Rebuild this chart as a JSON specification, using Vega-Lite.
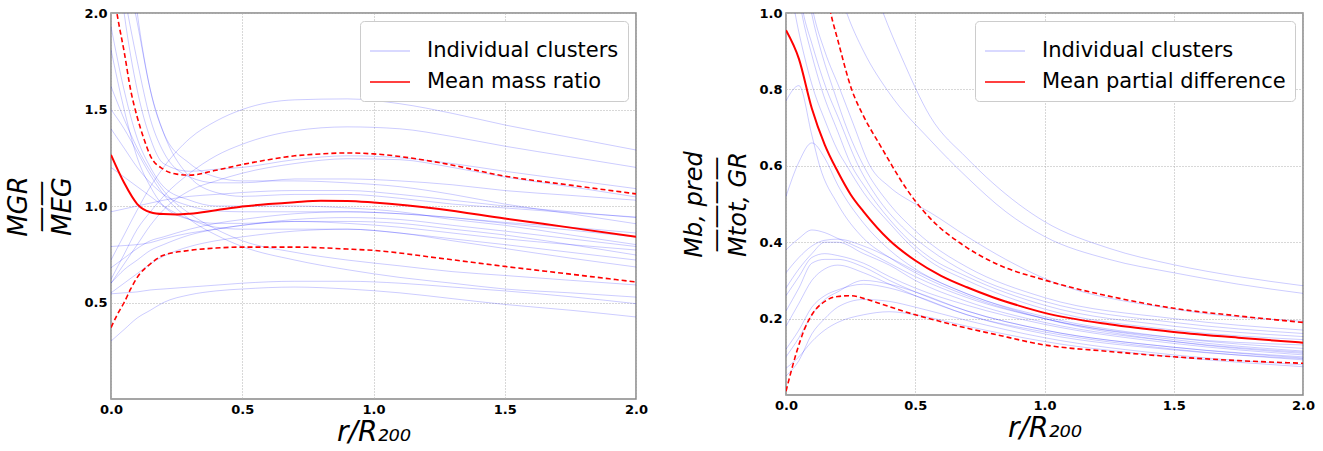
{
  "$schema": "https://vega.github.io/schema/vega-lite/v6.json",
  "background": "white",
  "padding": {"left": 5, "top": 6, "right": 5, "bottom": 1},
  "spacing": 33,
  "config": {
    "font": "DejaVu Sans",
    "view": {"stroke": "#888888", "strokeWidth": 1.5},
    "axis": {
      "labelFont": "DejaVu Sans", "labelFontWeight": "bold", "labelFontSize": 13, "labelColor": "black",
      "labelFlush": false, "labelOverlap": false, "labelPadding": 4,
      "ticks": false, "domain": false, "grid": true,
      "gridColor": "#b0b0b0", "gridDash": [1, 2], "gridWidth": 1,
      "titleFont": "DejaVu Sans", "titleFontWeight": "normal", "titleColor": "black", "titleFontStyle": "italic"
    },
    "legend": {
      "orient": "top-right", "offset": 8, "padding": 9, "fillColor": "white", "strokeColor": "#cccccc",
      "cornerRadius": 4, "symbolType": "stroke", "symbolSize": 1600, "symbolStrokeWidth": 1.5,
      "labelFont": "DejaVu Sans", "labelFontSize": 21, "labelColor": "black", "labelOffset": 16, "labelLimit": 500,
      "rowPadding": 0, "titlePadding": 0
    }
  },
  "datasets": {
    "left_ind": [
      {"c":"L1","r":0,"v":0.72},{"c":"L1","r":0.05,"v":0.85},{"c":"L1","r":0.1,"v":0.98},{"c":"L1","r":0.15,"v":1.10},{"c":"L1","r":0.2,"v":1.20},{"c":"L1","r":0.3,"v":1.35},{"c":"L1","r":0.4,"v":1.44},{"c":"L1","r":0.5,"v":1.50},{"c":"L1","r":0.7,"v":1.55},{"c":"L1","r":0.9,"v":1.555},{"c":"L1","r":1.1,"v":1.53},{"c":"L1","r":1.3,"v":1.48},{"c":"L1","r":1.5,"v":1.42},{"c":"L1","r":1.75,"v":1.355},{"c":"L1","r":2.0,"v":1.29},
      {"c":"L2","r":0,"v":0.62},{"c":"L2","r":0.05,"v":0.75},{"c":"L2","r":0.1,"v":0.88},{"c":"L2","r":0.15,"v":0.97},{"c":"L2","r":0.2,"v":1.05},{"c":"L2","r":0.3,"v":1.17},{"c":"L2","r":0.4,"v":1.26},{"c":"L2","r":0.5,"v":1.32},{"c":"L2","r":0.7,"v":1.39},{"c":"L2","r":0.9,"v":1.41},{"c":"L2","r":1.1,"v":1.40},{"c":"L2","r":1.3,"v":1.36},{"c":"L2","r":1.5,"v":1.31},{"c":"L2","r":1.75,"v":1.255},{"c":"L2","r":2.0,"v":1.20},
      {"c":"L3","r":0,"v":2.6},{"c":"L3","r":0.05,"v":2.0},{"c":"L3","r":0.1,"v":1.6},{"c":"L3","r":0.15,"v":1.35},{"c":"L3","r":0.2,"v":1.22},{"c":"L3","r":0.3,"v":1.18},{"c":"L3","r":0.4,"v":1.19},{"c":"L3","r":0.5,"v":1.20},{"c":"L3","r":0.7,"v":1.24},{"c":"L3","r":0.9,"v":1.26},{"c":"L3","r":1.1,"v":1.25},{"c":"L3","r":1.3,"v":1.22},{"c":"L3","r":1.5,"v":1.18},{"c":"L3","r":1.75,"v":1.135},{"c":"L3","r":2.0,"v":1.09},
      {"c":"L4","r":0,"v":0.6},{"c":"L4","r":0.05,"v":0.7},{"c":"L4","r":0.1,"v":0.8},{"c":"L4","r":0.15,"v":0.9},{"c":"L4","r":0.2,"v":0.98},{"c":"L4","r":0.3,"v":1.08},{"c":"L4","r":0.4,"v":1.13},{"c":"L4","r":0.5,"v":1.17},{"c":"L4","r":0.7,"v":1.22},{"c":"L4","r":0.9,"v":1.245},{"c":"L4","r":1.1,"v":1.24},{"c":"L4","r":1.3,"v":1.20},{"c":"L4","r":1.5,"v":1.15},{"c":"L4","r":1.75,"v":1.10},{"c":"L4","r":2.0,"v":1.047},
      {"c":"L5","r":0,"v":2.5},{"c":"L5","r":0.05,"v":2.1},{"c":"L5","r":0.1,"v":1.75},{"c":"L5","r":0.15,"v":1.45},{"c":"L5","r":0.2,"v":1.28},{"c":"L5","r":0.3,"v":1.15},{"c":"L5","r":0.4,"v":1.12},{"c":"L5","r":0.5,"v":1.12},{"c":"L5","r":0.7,"v":1.14},{"c":"L5","r":0.9,"v":1.14},{"c":"L5","r":1.1,"v":1.13},{"c":"L5","r":1.3,"v":1.11},{"c":"L5","r":1.5,"v":1.08},{"c":"L5","r":1.75,"v":1.055},{"c":"L5","r":2.0,"v":1.03},
      {"c":"L6","r":0,"v":2.7},{"c":"L6","r":0.05,"v":2.3},{"c":"L6","r":0.1,"v":1.95},{"c":"L6","r":0.15,"v":1.6},{"c":"L6","r":0.2,"v":1.38},{"c":"L6","r":0.3,"v":1.15},{"c":"L6","r":0.4,"v":1.07},{"c":"L6","r":0.5,"v":1.05},{"c":"L6","r":0.7,"v":1.06},{"c":"L6","r":0.9,"v":1.06},{"c":"L6","r":1.1,"v":1.04},{"c":"L6","r":1.3,"v":1.01},{"c":"L6","r":1.5,"v":0.99},{"c":"L6","r":1.75,"v":0.965},{"c":"L6","r":2.0,"v":0.943},
      {"c":"L7","r":0,"v":1.93},{"c":"L7","r":0.05,"v":1.6},{"c":"L7","r":0.1,"v":1.35},{"c":"L7","r":0.15,"v":1.2},{"c":"L7","r":0.2,"v":1.1},{"c":"L7","r":0.3,"v":1.03},{"c":"L7","r":0.4,"v":1.0},{"c":"L7","r":0.5,"v":1.0},{"c":"L7","r":0.7,"v":1.0},{"c":"L7","r":0.9,"v":0.99},{"c":"L7","r":1.1,"v":0.97},{"c":"L7","r":1.3,"v":0.93},{"c":"L7","r":1.5,"v":0.9},{"c":"L7","r":1.75,"v":0.85},{"c":"L7","r":2.0,"v":0.80},
      {"c":"L8","r":0,"v":1.81},{"c":"L8","r":0.05,"v":1.5},{"c":"L8","r":0.1,"v":1.25},{"c":"L8","r":0.15,"v":1.1},{"c":"L8","r":0.2,"v":1.0},{"c":"L8","r":0.3,"v":0.93},{"c":"L8","r":0.4,"v":0.91},{"c":"L8","r":0.5,"v":0.91},{"c":"L8","r":0.7,"v":0.92},{"c":"L8","r":0.9,"v":0.91},{"c":"L8","r":1.1,"v":0.89},{"c":"L8","r":1.3,"v":0.86},{"c":"L8","r":1.5,"v":0.83},{"c":"L8","r":1.75,"v":0.80},{"c":"L8","r":2.0,"v":0.772},
      {"c":"L9","r":0,"v":1.62},{"c":"L9","r":0.05,"v":1.45},{"c":"L9","r":0.1,"v":1.3},{"c":"L9","r":0.15,"v":1.18},{"c":"L9","r":0.2,"v":1.08},{"c":"L9","r":0.3,"v":0.96},{"c":"L9","r":0.4,"v":0.88},{"c":"L9","r":0.5,"v":0.82},{"c":"L9","r":0.7,"v":0.76},{"c":"L9","r":0.9,"v":0.72},{"c":"L9","r":1.1,"v":0.69},{"c":"L9","r":1.3,"v":0.66},{"c":"L9","r":1.5,"v":0.64},{"c":"L9","r":1.75,"v":0.615},{"c":"L9","r":2.0,"v":0.591},
      {"c":"L10","r":0,"v":1.5},{"c":"L10","r":0.05,"v":1.4},{"c":"L10","r":0.1,"v":1.28},{"c":"L10","r":0.15,"v":1.16},{"c":"L10","r":0.2,"v":1.06},{"c":"L10","r":0.3,"v":0.93},{"c":"L10","r":0.4,"v":0.85},{"c":"L10","r":0.5,"v":0.79},{"c":"L10","r":0.7,"v":0.72},{"c":"L10","r":0.9,"v":0.67},{"c":"L10","r":1.1,"v":0.63},{"c":"L10","r":1.3,"v":0.6},{"c":"L10","r":1.5,"v":0.57},{"c":"L10","r":1.75,"v":0.55},{"c":"L10","r":2.0,"v":0.528},
      {"c":"L11","r":0,"v":0.97},{"c":"L11","r":0.05,"v":0.985},{"c":"L11","r":0.1,"v":1.0},{"c":"L11","r":0.15,"v":1.015},{"c":"L11","r":0.2,"v":1.03},{"c":"L11","r":0.3,"v":1.05},{"c":"L11","r":0.4,"v":1.06},{"c":"L11","r":0.5,"v":1.07},{"c":"L11","r":0.7,"v":1.08},{"c":"L11","r":0.9,"v":1.08},{"c":"L11","r":1.1,"v":1.06},{"c":"L11","r":1.3,"v":1.03},{"c":"L11","r":1.5,"v":1.0},{"c":"L11","r":1.75,"v":0.97},{"c":"L11","r":2.0,"v":0.94},
      {"c":"L12","r":0,"v":0.79},{"c":"L12","r":0.05,"v":0.795},{"c":"L12","r":0.1,"v":0.8},{"c":"L12","r":0.15,"v":0.81},{"c":"L12","r":0.2,"v":0.83},{"c":"L12","r":0.3,"v":0.86},{"c":"L12","r":0.4,"v":0.88},{"c":"L12","r":0.5,"v":0.9},{"c":"L12","r":0.7,"v":0.92},{"c":"L12","r":0.9,"v":0.92},{"c":"L12","r":1.1,"v":0.91},{"c":"L12","r":1.3,"v":0.88},{"c":"L12","r":1.5,"v":0.85},{"c":"L12","r":1.75,"v":0.80},{"c":"L12","r":2.0,"v":0.746},
      {"c":"L13","r":0,"v":0.6},{"c":"L13","r":0.05,"v":0.67},{"c":"L13","r":0.1,"v":0.72},{"c":"L13","r":0.15,"v":0.77},{"c":"L13","r":0.2,"v":0.8},{"c":"L13","r":0.3,"v":0.85},{"c":"L13","r":0.4,"v":0.88},{"c":"L13","r":0.5,"v":0.9},{"c":"L13","r":0.7,"v":0.93},{"c":"L13","r":0.9,"v":0.94},{"c":"L13","r":1.1,"v":0.93},{"c":"L13","r":1.3,"v":0.9},{"c":"L13","r":1.5,"v":0.87},{"c":"L13","r":1.75,"v":0.83},{"c":"L13","r":2.0,"v":0.79},
      {"c":"L14","r":0,"v":0.68},{"c":"L14","r":0.05,"v":0.73},{"c":"L14","r":0.1,"v":0.78},{"c":"L14","r":0.15,"v":0.82},{"c":"L14","r":0.2,"v":0.84},{"c":"L14","r":0.3,"v":0.88},{"c":"L14","r":0.4,"v":0.91},{"c":"L14","r":0.5,"v":0.93},{"c":"L14","r":0.7,"v":0.96},{"c":"L14","r":0.9,"v":0.97},{"c":"L14","r":1.1,"v":0.96},{"c":"L14","r":1.3,"v":0.94},{"c":"L14","r":1.5,"v":0.91},{"c":"L14","r":1.75,"v":0.875},{"c":"L14","r":2.0,"v":0.84},
      {"c":"L15","r":0,"v":0.55},{"c":"L15","r":0.05,"v":0.6},{"c":"L15","r":0.1,"v":0.65},{"c":"L15","r":0.15,"v":0.7},{"c":"L15","r":0.2,"v":0.74},{"c":"L15","r":0.3,"v":0.79},{"c":"L15","r":0.4,"v":0.82},{"c":"L15","r":0.5,"v":0.84},{"c":"L15","r":0.7,"v":0.87},{"c":"L15","r":0.9,"v":0.88},{"c":"L15","r":1.1,"v":0.86},{"c":"L15","r":1.3,"v":0.82},{"c":"L15","r":1.5,"v":0.78},{"c":"L15","r":1.75,"v":0.73},{"c":"L15","r":2.0,"v":0.684},
      {"c":"L16","r":0,"v":0.545},{"c":"L16","r":0.05,"v":0.55},{"c":"L16","r":0.1,"v":0.555},{"c":"L16","r":0.15,"v":0.565},{"c":"L16","r":0.2,"v":0.57},{"c":"L16","r":0.3,"v":0.58},{"c":"L16","r":0.4,"v":0.59},{"c":"L16","r":0.5,"v":0.6},{"c":"L16","r":0.7,"v":0.61},{"c":"L16","r":0.9,"v":0.61},{"c":"L16","r":1.1,"v":0.6},{"c":"L16","r":1.3,"v":0.58},{"c":"L16","r":1.5,"v":0.56},{"c":"L16","r":1.75,"v":0.53},{"c":"L16","r":2.0,"v":0.494},
      {"c":"L17","r":0,"v":0.3},{"c":"L17","r":0.05,"v":0.36},{"c":"L17","r":0.1,"v":0.42},{"c":"L17","r":0.15,"v":0.46},{"c":"L17","r":0.2,"v":0.5},{"c":"L17","r":0.3,"v":0.54},{"c":"L17","r":0.4,"v":0.56},{"c":"L17","r":0.5,"v":0.57},{"c":"L17","r":0.7,"v":0.58},{"c":"L17","r":0.9,"v":0.57},{"c":"L17","r":1.1,"v":0.55},{"c":"L17","r":1.3,"v":0.52},{"c":"L17","r":1.5,"v":0.49},{"c":"L17","r":1.75,"v":0.46},{"c":"L17","r":2.0,"v":0.425},
      {"c":"L18","r":0,"v":1.4},{"c":"L18","r":0.05,"v":1.3},{"c":"L18","r":0.1,"v":1.2},{"c":"L18","r":0.15,"v":1.12},{"c":"L18","r":0.2,"v":1.06},{"c":"L18","r":0.3,"v":1.0},{"c":"L18","r":0.4,"v":0.975},{"c":"L18","r":0.5,"v":0.97},{"c":"L18","r":0.7,"v":0.97},{"c":"L18","r":0.9,"v":0.97},{"c":"L18","r":1.1,"v":0.96},{"c":"L18","r":1.3,"v":0.94},{"c":"L18","r":1.5,"v":0.915},{"c":"L18","r":1.75,"v":0.89},{"c":"L18","r":2.0,"v":0.86},
      {"c":"L19","r":0,"v":1.2},{"c":"L19","r":0.05,"v":1.15},{"c":"L19","r":0.1,"v":1.1},{"c":"L19","r":0.15,"v":1.05},{"c":"L19","r":0.2,"v":1.0},{"c":"L19","r":0.3,"v":0.93},{"c":"L19","r":0.4,"v":0.89},{"c":"L19","r":0.5,"v":0.88},{"c":"L19","r":0.7,"v":0.88},{"c":"L19","r":0.9,"v":0.88},{"c":"L19","r":1.1,"v":0.86},{"c":"L19","r":1.3,"v":0.83},{"c":"L19","r":1.5,"v":0.8},{"c":"L19","r":1.75,"v":0.76},{"c":"L19","r":2.0,"v":0.72},
      {"c":"L20","r":0,"v":3.2},{"c":"L20","r":0.05,"v":2.6},{"c":"L20","r":0.1,"v":2.0},{"c":"L20","r":0.15,"v":1.6},{"c":"L20","r":0.2,"v":1.38},{"c":"L20","r":0.3,"v":1.22},{"c":"L20","r":0.4,"v":1.15},{"c":"L20","r":0.5,"v":1.13},{"c":"L20","r":0.7,"v":1.13},{"c":"L20","r":0.9,"v":1.12},{"c":"L20","r":1.1,"v":1.10},{"c":"L20","r":1.3,"v":1.06},{"c":"L20","r":1.5,"v":1.01},{"c":"L20","r":1.75,"v":0.96},{"c":"L20","r":2.0,"v":0.908}
    ],
    "left_mean": [
      {"r":0,"v":1.265},{"r":0.05,"v":1.12},{"r":0.1,"v":1.01},{"r":0.15,"v":0.968},{"r":0.2,"v":0.958},{"r":0.25,"v":0.956},{"r":0.3,"v":0.96},{"r":0.4,"v":0.978},{"r":0.5,"v":0.997},{"r":0.6,"v":1.01},{"r":0.7,"v":1.02},{"r":0.8,"v":1.027},{"r":0.9,"v":1.026},{"r":1.0,"v":1.018},{"r":1.25,"v":0.985},{"r":1.5,"v":0.935},{"r":1.75,"v":0.888},{"r":2.0,"v":0.84}
    ],
    "left_band": [
      {"b":"up","r":0,"v":2.2},{"b":"up","r":0.025,"v":1.98},{"b":"up","r":0.05,"v":1.8},{"b":"up","r":0.075,"v":1.6},{"b":"up","r":0.1,"v":1.46},{"b":"up","r":0.125,"v":1.35},{"b":"up","r":0.15,"v":1.26},{"b":"up","r":0.2,"v":1.19},{"b":"up","r":0.25,"v":1.165},{"b":"up","r":0.3,"v":1.16},{"b":"up","r":0.4,"v":1.185},{"b":"up","r":0.5,"v":1.215},{"b":"up","r":0.6,"v":1.24},{"b":"up","r":0.7,"v":1.26},{"b":"up","r":0.8,"v":1.27},{"b":"up","r":0.9,"v":1.275},{"b":"up","r":1.0,"v":1.27},{"b":"up","r":1.25,"v":1.225},{"b":"up","r":1.5,"v":1.155},{"b":"up","r":1.75,"v":1.108},{"b":"up","r":2.0,"v":1.063},
      {"b":"lo","r":0,"v":0.37},{"b":"lo","r":0.025,"v":0.44},{"b":"lo","r":0.05,"v":0.5},{"b":"lo","r":0.075,"v":0.57},{"b":"lo","r":0.1,"v":0.63},{"b":"lo","r":0.15,"v":0.7},{"b":"lo","r":0.2,"v":0.745},{"b":"lo","r":0.3,"v":0.77},{"b":"lo","r":0.4,"v":0.782},{"b":"lo","r":0.5,"v":0.787},{"b":"lo","r":0.7,"v":0.787},{"b":"lo","r":0.9,"v":0.777},{"b":"lo","r":1.0,"v":0.77},{"b":"lo","r":1.25,"v":0.73},{"b":"lo","r":1.5,"v":0.687},{"b":"lo","r":1.75,"v":0.647},{"b":"lo","r":2.0,"v":0.606}
    ],
    "right_ind": [
      {"c":"R1","r":0.2,"v":1.5},{"c":"R1","r":0.3,"v":1.15},{"c":"R1","r":0.376,"v":1.0},{"c":"R1","r":0.45,"v":0.88},{"c":"R1","r":0.557,"v":0.73},{"c":"R1","r":0.7,"v":0.62},{"c":"R1","r":0.8,"v":0.555},{"c":"R1","r":1.0,"v":0.454},{"c":"R1","r":1.25,"v":0.384},{"c":"R1","r":1.5,"v":0.341},{"c":"R1","r":1.75,"v":0.31},{"c":"R1","r":2.0,"v":0.286},
      {"c":"R2","r":0.15,"v":1.2},{"c":"R2","r":0.235,"v":1.0},{"c":"R2","r":0.3,"v":0.9},{"c":"R2","r":0.4,"v":0.79},{"c":"R2","r":0.557,"v":0.668},{"c":"R2","r":0.7,"v":0.57},{"c":"R2","r":0.85,"v":0.48},{"c":"R2","r":1.0,"v":0.415},{"c":"R2","r":1.25,"v":0.355},{"c":"R2","r":1.5,"v":0.32},{"c":"R2","r":1.75,"v":0.29},{"c":"R2","r":2.0,"v":0.266},
      {"c":"R3","r":0,"v":1.15},{"c":"R3","r":0.035,"v":1.0},{"c":"R3","r":0.07,"v":0.89},{"c":"R3","r":0.106,"v":0.8},{"c":"R3","r":0.15,"v":0.72},{"c":"R3","r":0.2,"v":0.64},{"c":"R3","r":0.235,"v":0.6},{"c":"R3","r":0.3,"v":0.53},{"c":"R3","r":0.4,"v":0.45},{"c":"R3","r":0.5,"v":0.38},{"c":"R3","r":0.557,"v":0.35},{"c":"R3","r":0.7,"v":0.3},{"c":"R3","r":1.0,"v":0.225},{"c":"R3","r":1.5,"v":0.17},{"c":"R3","r":2.0,"v":0.145},
      {"c":"R4","r":0,"v":1.3},{"c":"R4","r":0.061,"v":1.0},{"c":"R4","r":0.1,"v":0.89},{"c":"R4","r":0.138,"v":0.8},{"c":"R4","r":0.2,"v":0.69},{"c":"R4","r":0.254,"v":0.6},{"c":"R4","r":0.3,"v":0.55},{"c":"R4","r":0.4,"v":0.46},{"c":"R4","r":0.5,"v":0.39},{"c":"R4","r":0.557,"v":0.36},{"c":"R4","r":0.7,"v":0.31},{"c":"R4","r":1.0,"v":0.235},{"c":"R4","r":1.5,"v":0.18},{"c":"R4","r":2.0,"v":0.153},
      {"c":"R5","r":0,"v":1.35},{"c":"R5","r":0.067,"v":1.0},{"c":"R5","r":0.1,"v":0.92},{"c":"R5","r":0.157,"v":0.8},{"c":"R5","r":0.2,"v":0.73},{"c":"R5","r":0.28,"v":0.6},{"c":"R5","r":0.35,"v":0.52},{"c":"R5","r":0.45,"v":0.44},{"c":"R5","r":0.557,"v":0.38},{"c":"R5","r":0.7,"v":0.32},{"c":"R5","r":1.0,"v":0.245},{"c":"R5","r":1.5,"v":0.19},{"c":"R5","r":2.0,"v":0.161},
      {"c":"R6","r":0,"v":1.5},{"c":"R6","r":0.099,"v":1.0},{"c":"R6","r":0.14,"v":0.89},{"c":"R6","r":0.183,"v":0.8},{"c":"R6","r":0.24,"v":0.69},{"c":"R6","r":0.3,"v":0.6},{"c":"R6","r":0.4,"v":0.5},{"c":"R6","r":0.5,"v":0.43},{"c":"R6","r":0.557,"v":0.397},{"c":"R6","r":0.7,"v":0.335},{"c":"R6","r":1.0,"v":0.255},{"c":"R6","r":1.5,"v":0.2},{"c":"R6","r":2.0,"v":0.17},
      {"c":"R7","r":0,"v":1.55},{"c":"R7","r":0.106,"v":1.0},{"c":"R7","r":0.15,"v":0.9},{"c":"R7","r":0.209,"v":0.8},{"c":"R7","r":0.26,"v":0.71},{"c":"R7","r":0.325,"v":0.6},{"c":"R7","r":0.4,"v":0.545},{"c":"R7","r":0.5,"v":0.5},{"c":"R7","r":0.557,"v":0.478},{"c":"R7","r":0.7,"v":0.415},{"c":"R7","r":0.85,"v":0.355},{"c":"R7","r":1.0,"v":0.305},{"c":"R7","r":1.5,"v":0.225},{"c":"R7","r":2.0,"v":0.193},
      {"c":"R10","r":0,"v":0.77},{"c":"R10","r":0.05,"v":0.81},{"c":"R10","r":0.1,"v":0.68},{"c":"R10","r":0.13,"v":0.6},{"c":"R10","r":0.2,"v":0.5},{"c":"R10","r":0.3,"v":0.41},{"c":"R10","r":0.4,"v":0.36},{"c":"R10","r":0.5,"v":0.32},{"c":"R10","r":0.7,"v":0.26},{"c":"R10","r":1.0,"v":0.2},{"c":"R10","r":1.5,"v":0.15},{"c":"R10","r":2.0,"v":0.131},
      {"c":"R11","r":0,"v":0.52},{"c":"R11","r":0.05,"v":0.61},{"c":"R11","r":0.1,"v":0.66},{"c":"R11","r":0.15,"v":0.62},{"c":"R11","r":0.2,"v":0.55},{"c":"R11","r":0.3,"v":0.45},{"c":"R11","r":0.4,"v":0.38},{"c":"R11","r":0.5,"v":0.33},{"c":"R11","r":0.7,"v":0.265},{"c":"R11","r":1.0,"v":0.205},{"c":"R11","r":1.5,"v":0.15},{"c":"R11","r":2.0,"v":0.122},
      {"c":"R12","r":0,"v":0.38},{"c":"R12","r":0.05,"v":0.41},{"c":"R12","r":0.1,"v":0.432},{"c":"R12","r":0.15,"v":0.425},{"c":"R12","r":0.2,"v":0.41},{"c":"R12","r":0.3,"v":0.38},{"c":"R12","r":0.4,"v":0.345},{"c":"R12","r":0.5,"v":0.31},{"c":"R12","r":0.7,"v":0.255},{"c":"R12","r":1.0,"v":0.2},{"c":"R12","r":1.5,"v":0.145},{"c":"R12","r":2.0,"v":0.115},
      {"c":"R13","r":0,"v":0.32},{"c":"R13","r":0.05,"v":0.36},{"c":"R13","r":0.1,"v":0.39},{"c":"R13","r":0.15,"v":0.405},{"c":"R13","r":0.2,"v":0.408},{"c":"R13","r":0.3,"v":0.39},{"c":"R13","r":0.4,"v":0.36},{"c":"R13","r":0.5,"v":0.325},{"c":"R13","r":0.7,"v":0.265},{"c":"R13","r":1.0,"v":0.2},{"c":"R13","r":1.5,"v":0.14},{"c":"R13","r":2.0,"v":0.109},
      {"c":"R14","r":0,"v":0.26},{"c":"R14","r":0.05,"v":0.31},{"c":"R14","r":0.1,"v":0.36},{"c":"R14","r":0.15,"v":0.37},{"c":"R14","r":0.2,"v":0.365},{"c":"R14","r":0.3,"v":0.345},{"c":"R14","r":0.4,"v":0.31},{"c":"R14","r":0.5,"v":0.28},{"c":"R14","r":0.7,"v":0.235},{"c":"R14","r":1.0,"v":0.185},{"c":"R14","r":1.5,"v":0.135},{"c":"R14","r":2.0,"v":0.105},
      {"c":"R15","r":0,"v":0.22},{"c":"R15","r":0.05,"v":0.28},{"c":"R15","r":0.1,"v":0.345},{"c":"R15","r":0.15,"v":0.355},{"c":"R15","r":0.2,"v":0.355},{"c":"R15","r":0.3,"v":0.335},{"c":"R15","r":0.4,"v":0.3},{"c":"R15","r":0.5,"v":0.27},{"c":"R15","r":0.7,"v":0.22},{"c":"R15","r":1.0,"v":0.17},{"c":"R15","r":1.5,"v":0.125},{"c":"R15","r":2.0,"v":0.1},
      {"c":"R16","r":0,"v":0.18},{"c":"R16","r":0.05,"v":0.24},{"c":"R16","r":0.1,"v":0.3},{"c":"R16","r":0.15,"v":0.33},{"c":"R16","r":0.2,"v":0.34},{"c":"R16","r":0.3,"v":0.32},{"c":"R16","r":0.4,"v":0.29},{"c":"R16","r":0.5,"v":0.26},{"c":"R16","r":0.7,"v":0.21},{"c":"R16","r":1.0,"v":0.16},{"c":"R16","r":1.5,"v":0.118},{"c":"R16","r":2.0,"v":0.095},
      {"c":"R17","r":0,"v":0.12},{"c":"R17","r":0.05,"v":0.17},{"c":"R17","r":0.1,"v":0.23},{"c":"R17","r":0.15,"v":0.26},{"c":"R17","r":0.2,"v":0.275},{"c":"R17","r":0.3,"v":0.29},{"c":"R17","r":0.4,"v":0.28},{"c":"R17","r":0.5,"v":0.26},{"c":"R17","r":0.7,"v":0.21},{"c":"R17","r":1.0,"v":0.165},{"c":"R17","r":1.5,"v":0.12},{"c":"R17","r":2.0,"v":0.092},
      {"c":"R18","r":0,"v":0.1},{"c":"R18","r":0.05,"v":0.15},{"c":"R18","r":0.1,"v":0.21},{"c":"R18","r":0.15,"v":0.25},{"c":"R18","r":0.2,"v":0.27},{"c":"R18","r":0.3,"v":0.3},{"c":"R18","r":0.4,"v":0.29},{"c":"R18","r":0.5,"v":0.27},{"c":"R18","r":0.7,"v":0.22},{"c":"R18","r":1.0,"v":0.17},{"c":"R18","r":1.5,"v":0.125},{"c":"R18","r":2.0,"v":0.097},
      {"c":"R19","r":0,"v":0.07},{"c":"R19","r":0.05,"v":0.1},{"c":"R19","r":0.1,"v":0.14},{"c":"R19","r":0.15,"v":0.17},{"c":"R19","r":0.2,"v":0.19},{"c":"R19","r":0.3,"v":0.21},{"c":"R19","r":0.4,"v":0.218},{"c":"R19","r":0.5,"v":0.21},{"c":"R19","r":0.7,"v":0.18},{"c":"R19","r":1.0,"v":0.14},{"c":"R19","r":1.5,"v":0.1},{"c":"R19","r":2.0,"v":0.074},
      {"c":"R20","r":0,"v":0.05},{"c":"R20","r":0.05,"v":0.09},{"c":"R20","r":0.1,"v":0.16},{"c":"R20","r":0.15,"v":0.2},{"c":"R20","r":0.2,"v":0.23},{"c":"R20","r":0.3,"v":0.25},{"c":"R20","r":0.4,"v":0.245},{"c":"R20","r":0.5,"v":0.23},{"c":"R20","r":0.7,"v":0.195},{"c":"R20","r":1.0,"v":0.15},{"c":"R20","r":1.5,"v":0.105},{"c":"R20","r":2.0,"v":0.079},
      {"c":"R21","r":0,"v":0.28},{"c":"R21","r":0.05,"v":0.33},{"c":"R21","r":0.1,"v":0.37},{"c":"R21","r":0.15,"v":0.4},{"c":"R21","r":0.2,"v":0.4},{"c":"R21","r":0.3,"v":0.37},{"c":"R21","r":0.4,"v":0.34},{"c":"R21","r":0.5,"v":0.3},{"c":"R21","r":0.7,"v":0.245},{"c":"R21","r":1.0,"v":0.19},{"c":"R21","r":1.5,"v":0.14},{"c":"R21","r":2.0,"v":0.112}
    ],
    "right_mean": [
      {"r":0,"v":0.955},{"r":0.05,"v":0.88},{"r":0.1,"v":0.75},{"r":0.15,"v":0.655},{"r":0.2,"v":0.585},{"r":0.25,"v":0.525},{"r":0.3,"v":0.48},{"r":0.4,"v":0.405},{"r":0.5,"v":0.352},{"r":0.6,"v":0.312},{"r":0.7,"v":0.282},{"r":0.8,"v":0.256},{"r":0.9,"v":0.234},{"r":1.0,"v":0.215},{"r":1.25,"v":0.185},{"r":1.5,"v":0.165},{"r":1.75,"v":0.15},{"r":2.0,"v":0.137}
    ],
    "right_band": [
      {"b":"up","r":0,"v":1.5},{"b":"up","r":0.1,"v":1.25},{"b":"up","r":0.15,"v":1.08},{"b":"up","r":0.173,"v":1.0},{"b":"up","r":0.2,"v":0.93},{"b":"up","r":0.254,"v":0.8},{"b":"up","r":0.3,"v":0.73},{"b":"up","r":0.363,"v":0.655},{"b":"up","r":0.4,"v":0.612},{"b":"up","r":0.45,"v":0.556},{"b":"up","r":0.5,"v":0.508},{"b":"up","r":0.557,"v":0.463},{"b":"up","r":0.686,"v":0.392},{"b":"up","r":0.815,"v":0.343},{"b":"up","r":1.0,"v":0.301},{"b":"up","r":1.29,"v":0.253},{"b":"up","r":1.5,"v":0.227},{"b":"up","r":1.75,"v":0.207},{"b":"up","r":2.0,"v":0.19},
      {"b":"lo","r":0,"v":0.01},{"b":"lo","r":0.04,"v":0.11},{"b":"lo","r":0.07,"v":0.17},{"b":"lo","r":0.1,"v":0.21},{"b":"lo","r":0.15,"v":0.245},{"b":"lo","r":0.2,"v":0.258},{"b":"lo","r":0.25,"v":0.26},{"b":"lo","r":0.3,"v":0.253},{"b":"lo","r":0.36,"v":0.24},{"b":"lo","r":0.5,"v":0.21},{"b":"lo","r":0.6,"v":0.192},{"b":"lo","r":0.7,"v":0.175},{"b":"lo","r":0.8,"v":0.16},{"b":"lo","r":1.0,"v":0.131},{"b":"lo","r":1.25,"v":0.114},{"b":"lo","r":1.5,"v":0.1},{"b":"lo","r":1.75,"v":0.09},{"b":"lo","r":2.0,"v":0.083}
    ]
  },
  "hconcat": [
    {
      "width": 525,
      "height": 386,
      "encoding": {
        "x": {"field": "r", "type": "quantitative", "scale": {"domain": [0, 2], "nice": false},
              "axis": {"values": [0, 0.5, 1, 1.5, 2], "format": ".1f", "title": "r/R₂₀₀", "titleFontSize": 28, "titlePadding": 2}},
        "y": {"field": "v", "type": "quantitative", "scale": {"domain": [0, 2], "nice": false},
              "axis": {"values": [0.5, 1, 1.5, 2], "format": ".1f", "title": ["MGR", "——", "MEG"], "titleFontSize": 26, "titleLineHeight": 22, "titlePadding": 8}}
      },
      "layer": [
        {"data": {"name": "left_ind"}, "mark": {"type": "line", "clip": true, "interpolate": "monotone", "strokeWidth": 1},
         "encoding": {"detail": {"field": "c"},
           "color": {"datum": "Individual clusters", "type": "nominal",
             "scale": {"domain": ["Individual clusters", "Mean mass ratio"], "range": ["rgba(0,0,255,0.2)", "#ff0000"]},
             "legend": {"title": null}}}},
        {"data": {"name": "left_band"}, "mark": {"type": "line", "clip": true, "interpolate": "monotone", "strokeWidth": 1.6, "strokeDash": [5, 3], "color": "#ff0000"},
         "encoding": {"detail": {"field": "b"}}},
        {"data": {"name": "left_mean"}, "mark": {"type": "line", "clip": true, "interpolate": "monotone", "strokeWidth": 2},
         "encoding": {"color": {"datum": "Mean mass ratio", "type": "nominal"}}}
      ]
    },
    {
      "width": 517,
      "height": 382,
      "encoding": {
        "x": {"field": "r", "type": "quantitative", "scale": {"domain": [0, 2], "nice": false},
              "axis": {"values": [0, 0.5, 1, 1.5, 2], "format": ".1f", "title": "r/R₂₀₀", "titleFontSize": 28, "titlePadding": 2}},
        "y": {"field": "v", "type": "quantitative", "scale": {"domain": [0, 1], "nice": false},
              "axis": {"values": [0.2, 0.4, 0.6, 0.8, 1.0], "format": ".1f", "title": ["Mb, pred", "————", "Mtot, GR"], "titleFontSize": 24, "titleLineHeight": 22, "titlePadding": 8}}
      },
      "layer": [
        {"data": {"name": "right_ind"}, "mark": {"type": "line", "clip": true, "interpolate": "monotone", "strokeWidth": 1},
         "encoding": {"detail": {"field": "c"},
           "color": {"datum": "Individual clusters", "type": "nominal",
             "scale": {"domain": ["Individual clusters", "Mean partial difference"], "range": ["rgba(0,0,255,0.2)", "#ff0000"]},
             "legend": {"title": null}}}},
        {"data": {"name": "right_band"}, "mark": {"type": "line", "clip": true, "interpolate": "monotone", "strokeWidth": 1.6, "strokeDash": [5, 3], "color": "#ff0000"},
         "encoding": {"detail": {"field": "b"}}},
        {"data": {"name": "right_mean"}, "mark": {"type": "line", "clip": true, "interpolate": "monotone", "strokeWidth": 2},
         "encoding": {"color": {"datum": "Mean partial difference", "type": "nominal"}}}
      ]
    }
  ],
  "resolve": {"scale": {"color": "independent"}, "legend": {"color": "independent"}}
}
